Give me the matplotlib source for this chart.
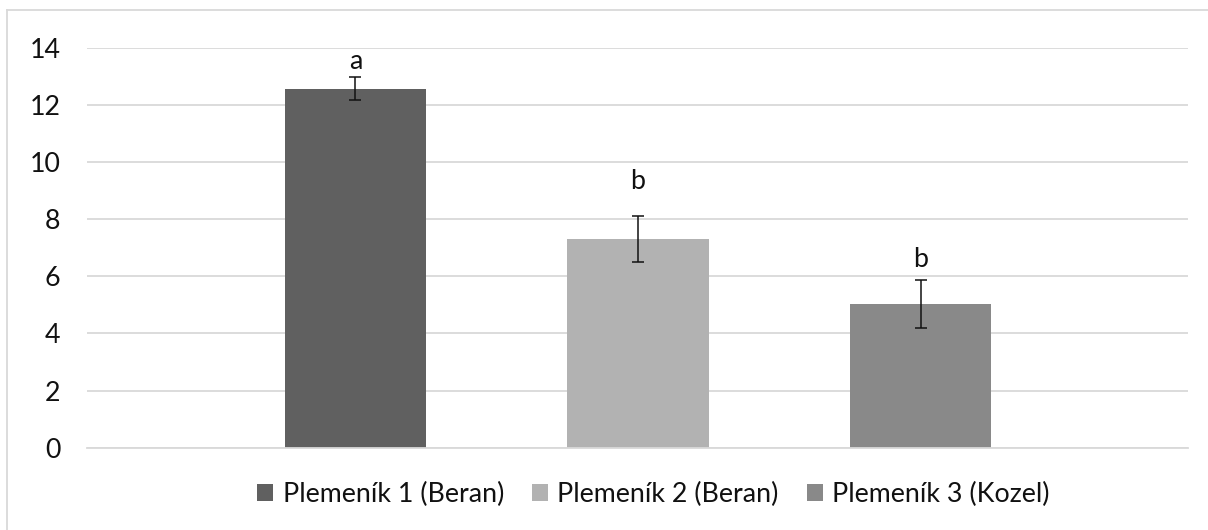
import matplotlib
matplotlib.use("Agg")
import matplotlib.pyplot as plt
from matplotlib.patches import Patch
from matplotlib.lines import Line2D

# Data
series = ["Plemeník 1 (Beran)", "Plemeník 2 (Beran)", "Plemeník 3 (Kozel)"]
means = [12.56, 7.31, 5.03]
errors = [0.40, 0.81, 0.85]
letters = ["a", "b", "b"]
letter_y = [13.5, 9.3, 6.6]
colors = ["#606060", "#b2b2b2", "#898989"]
yticks = [0, 2, 4, 6, 8, 10, 12, 14]

W, H, DPI = 1208, 530, 100
plt.rcParams["font.family"] = ["Lato", "DejaVu Sans"]
text_color = "#111111"
grid_color = "#d9d9d9"
fs = 19.3

fig = plt.figure(figsize=(W / DPI, H / DPI), dpi=DPI)
fig.patch.set_facecolor("white")

left, right = 87 / W, 1188.3 / W
top, bottom = 1 - 47.7 / H, 1 - 447.7 / H
ax = fig.add_axes([left, bottom, right - left, top - bottom])

x = [1, 2, 3]
ax.set_axisbelow(True)
ax.grid(axis="y", color=grid_color, linewidth=1.3)
ax.bar(x, means, width=0.5, color=colors, zorder=2)
ax.errorbar(x, means, yerr=errors, fmt="none", ecolor="#111111",
            elinewidth=1.1, capsize=4.5, capthick=1.1, zorder=3)

for xi, lab, ly in zip(x, letters, letter_y):
    ax.text(xi, ly, lab, ha="center", va="center", fontsize=fs, color=text_color)

ax.set_xlim(0.05, 3.947)
ax.set_ylim(0, 14)
ax.set_yticks(yticks)
ax.set_xticks([])
ax.tick_params(axis="y", length=0, pad=19, labelsize=fs, labelcolor=text_color)
for s in ["top", "right", "left"]:
    ax.spines[s].set_visible(False)
ax.spines["bottom"].set_color(grid_color)
ax.spines["bottom"].set_linewidth(1.3)

handles = [Patch(facecolor=c, edgecolor="none") for c in colors]
fig.legend(handles, series, loc="center", ncol=3,
           bbox_to_anchor=(653.4 / W, 1 - 494 / H),
           frameon=False, fontsize=fs, labelcolor=text_color,
           handlelength=0.6, handleheight=0.6, handletextpad=0.34,
           columnspacing=1.05, borderpad=0)

# Chart-area outline
fig.add_artist(Line2D([7.5 / W, 7.5 / W], [0, 1 - 9.5 / H],
                      transform=fig.transFigure, color=grid_color, linewidth=1.3))
fig.add_artist(Line2D([7.5 / W, 1], [1 - 9.5 / H, 1 - 9.5 / H],
                      transform=fig.transFigure, color=grid_color, linewidth=1.3))

fig.savefig("out.png", dpi=DPI, facecolor="white")
